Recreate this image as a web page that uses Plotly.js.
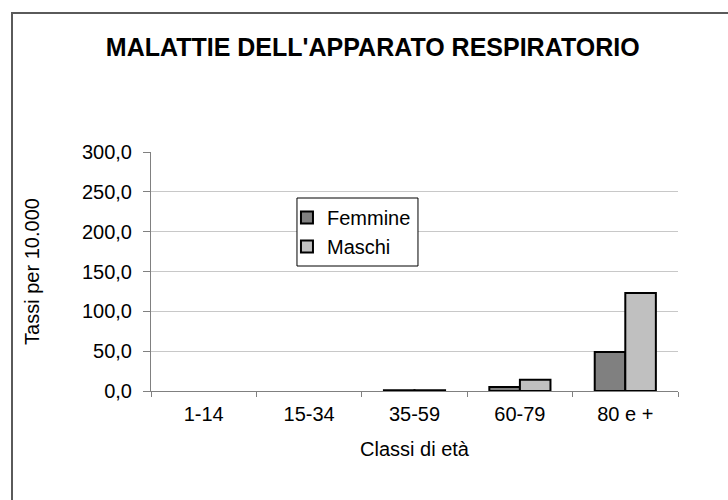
<!DOCTYPE html>
<html>
<head>
<meta charset="utf-8">
<script src="https://cdn.plot.ly/plotly-3.0.1.min.js"></script>
<style>
  html, body { margin: 0; padding: 0; background: #fff; }
  #chart { width: 728px; height: 500px; position: relative; }
  #frame { position: absolute; left: 11px; top: 12px; width: 800px; height: 600px;
           border-top: 2px solid #5a5a5a; border-left: 2px solid #5a5a5a; pointer-events: none; }
  #wrap { position: relative; width: 728px; height: 500px; overflow: hidden; }
</style>
</head>
<body>
<div id="wrap">
  <div id="chart"></div>
  <div id="frame"></div>
</div>
<script>
const categories = ["1-14", "15-34", "35-59", "60-79", "80 e +"];
const femmine = [0, 0, 0.8, 5, 49];
const maschi = [0, 0, 1.0, 14, 123];
const yTicks = [0, 50, 100, 150, 200, 250, 300];

const font = "Liberation Sans, Arial, sans-serif";
// zero-valued bars are not drawn in the original chart
const visibleVals = vals => vals.map(v => (v > 0 ? v : null));

const traces = [
  { type: "bar", name: "Femmine", x: categories, y: visibleVals(femmine),
    marker: { color: "#808080", line: { color: "#000", width: 2 } } },
  { type: "bar", name: "Maschi", x: categories, y: visibleVals(maschi),
    marker: { color: "#c0c0c0", line: { color: "#000", width: 2 } } }
];

const layout = {
  width: 728, height: 500,
  margin: { l: 151, r: 50, t: 152, b: 109 },
  paper_bgcolor: "#fff", plot_bgcolor: "#fff",
  separators: ",.",
  font: { family: font, size: 20, color: "#000" },
  barmode: "group", bargap: 0.42, bargroupgap: 0,
  title: { text: "<b>MALATTIE DELL'APPARATO RESPIRATORIO</b>",
           font: { family: font, size: 25, color: "#000" },
           x: 0.512, xanchor: "center", y: 0.906, yanchor: "middle" },
  xaxis: {
    type: "category",
    title: { text: "Classi di età", font: { size: 20 }, standoff: 17 },
    showline: true, linecolor: "#808080", linewidth: 1,
    ticks: "outside", tickson: "boundaries", ticklen: 5, tickcolor: "#808080",
    tickfont: { size: 20 }, ticklabelstandoff: 5,
    showgrid: false, fixedrange: true
  },
  yaxis: {
    title: { text: "Tassi per 10.000", font: { size: 20 }, standoff: 36 },
    range: [0, 300], tickvals: yTicks, tickformat: ".1f",
    showline: true, linecolor: "#808080", linewidth: 1,
    ticks: "outside", ticklen: 7, tickcolor: "#808080",
    tickfont: { size: 20 }, ticklabelstandoff: 7,
    showgrid: true, gridcolor: "#c8c8c8", gridwidth: 1,
    zeroline: false, fixedrange: true
  },
  shapes: [
    { type: "rect", xref: "paper", yref: "paper",
      x0: 0.277, x1: 0.5066, y0: 0.523, y1: 0.8075,
      line: { color: "#000", width: 1 }, fillcolor: "#fff", layer: "above" }
  ],
  legend: {
    x: 0.258, y: 0.808, xanchor: "left", yanchor: "top",
    borderwidth: 0, bgcolor: "rgba(0,0,0,0)",
    font: { size: 20 }, itemwidth: 30, tracegroupgap: 0
  },
  showlegend: true
};

Plotly.newPlot("chart", traces, layout, { displayModeBar: false, staticPlot: true });
</script>
</body>
</html>
